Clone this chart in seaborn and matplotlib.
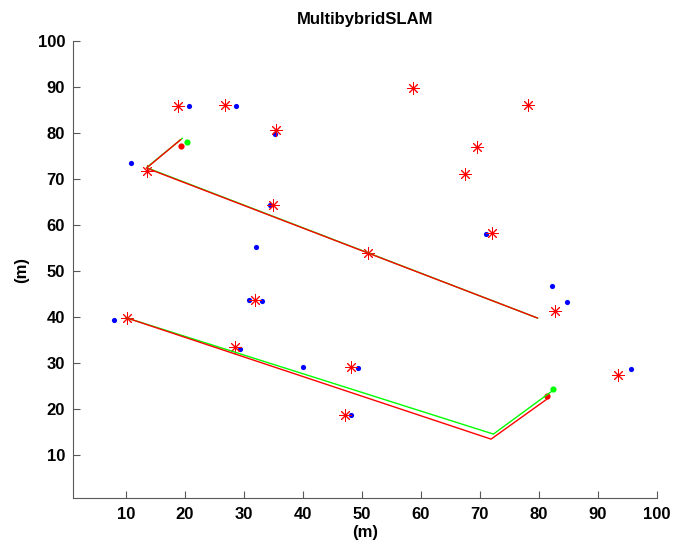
import numpy as np
import pandas as pd
import matplotlib
matplotlib.use("Agg")
import matplotlib.pyplot as plt
import seaborn as sns

# True landmarks (red asterisks)
lm_true_x = [18.9, 26.8, 35.5, 58.7, 78.1, 69.6, 67.4, 13.6, 35.0, 51.1, 72.1, 31.9, 10.2, 28.5, 48.2, 82.8, 93.5, 47.2]
lm_true_y = [85.9, 86.1, 80.5, 89.6, 86.1, 76.8, 71.1, 71.6, 64.2, 53.8, 58.3, 43.6, 39.7, 33.4, 29.1, 41.2, 27.3, 18.7]

# Estimated landmarks (blue dots)
lm_est_x = [20.7, 28.7, 35.2, 10.9, 34.5, 32.1, 71.1, 82.3, 84.7, 30.8, 33.0, 8.0, 29.4, 40.0, 49.4, 95.7, 48.2]
lm_est_y = [85.9, 85.9, 79.8, 73.5, 64.2, 55.1, 57.9, 46.6, 43.2, 43.6, 43.4, 39.3, 33.0, 29.1, 28.8, 28.6, 18.7]

# Paths: two pieces each
true_path1_x = [10.0, 71.9, 81.7]
true_path1_y = [39.8, 13.4, 22.4]
true_path2_x = [79.8, 13.5, 19.3]
true_path2_y = [39.7, 72.3, 78.5]
est_path1_x = [10.0, 72.3, 82.3]
est_path1_y = [39.8, 14.5, 23.9]
est_path2_x = [79.8, 13.5, 19.6]
est_path2_y = [39.7, 72.4, 78.8]

# Robot poses
robot_true_x = [81.4, 19.4]
robot_true_y = [22.8, 77.2]
robot_est_x = [82.4, 20.3]
robot_est_y = [24.2, 77.9]

x_ticks = [10, 20, 30, 40, 50, 60, 70, 80, 90, 100]
y_ticks = [10, 20, 30, 40, 50, 60, 70, 80, 90, 100]

sns.set_style("white")
plt.rcParams['font.family'] = ['Liberation Sans', 'DejaVu Sans']
plt.rcParams['font.weight'] = 'bold'
plt.rcParams['text.color'] = 'black'

fig = plt.figure(figsize=(6.73, 5.49), dpi=100)
ax = fig.add_axes([0.109, 0.092, 0.867, 0.834])

for px, py, c in [(est_path1_x, est_path1_y, (0, 1, 0)), (est_path2_x, est_path2_y, (0, 1, 0)),
                  (true_path1_x, true_path1_y, (1, 0, 0)), (true_path2_x, true_path2_y, (1, 0, 0))]:
    sns.lineplot(x=px, y=py, sort=False, estimator=None, color=c, linewidth=1.0, ax=ax)

sns.scatterplot(x=lm_est_x, y=lm_est_y, color=(0, 0, 1), marker='o', s=14, linewidth=0, ax=ax)
for ang in (0, 45):
    sns.scatterplot(x=lm_true_x, y=lm_true_y, color=(1, 0, 0), marker=(4, 2, ang), s=65,
                    linewidth=0.7, edgecolor=(1, 0, 0), ax=ax)
sns.scatterplot(x=robot_true_x, y=robot_true_y, color=(1, 0, 0), marker='o', s=20, linewidth=0, ax=ax)
sns.scatterplot(x=robot_est_x, y=robot_est_y, color=(0, 1, 0), marker='o', s=20, linewidth=0, ax=ax)

ax.set_xlim(1.1, 100)
ax.set_ylim(0.5, 100)
ax.set_xticks(x_ticks)
ax.set_yticks(y_ticks)
ax.set_xticklabels([str(t) for t in x_ticks], fontsize=12, fontweight='bold', color='black')
ax.set_yticklabels([str(t) for t in y_ticks], fontsize=12, fontweight='bold', color='black')
ax.tick_params(direction='in', length=5, width=0.8, color='0.35', pad=6,
               bottom=True, left=True, top=False, right=False)
for s in ['top', 'right']:
    ax.spines[s].set_visible(False)
for s in ['left', 'bottom']:
    ax.spines[s].set_color('0.35')
    ax.spines[s].set_linewidth(0.8)

ax.set_xlabel('(m)', fontsize=12, fontweight='bold', labelpad=2, color='black')
ax.set_ylabel('(m)', fontsize=12, fontweight='bold', labelpad=6, color='black')
ax.set_title('MultibybridSLAM', fontsize=12, fontweight='bold', pad=12, color='black')

fig.savefig('out.png', dpi=100)
